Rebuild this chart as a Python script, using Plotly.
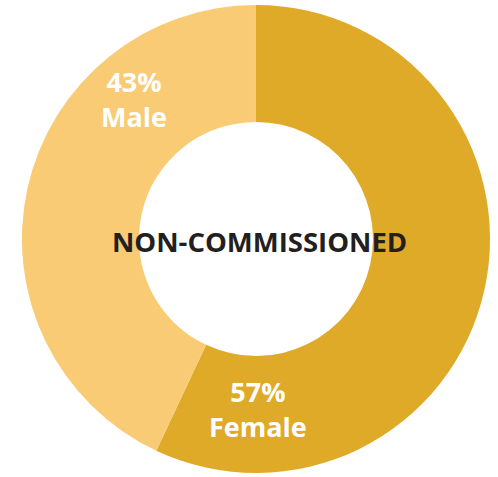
import plotly.graph_objects as go

# Gender split for non-commissioned staff
labels = ["Female", "Male"]
values = [57, 43]
colors = ["#DFAA28", "#F9CB74"]
center_title = "NON-COMMISSIONED"

# Label anchor positions in paper coordinates (x, y) for each slice
label_pos = {"Female": (0.518, 0.143), "Male": (0.269, 0.792)}

fig = go.Figure(
    go.Pie(
        labels=labels,
        values=values,
        hole=0.5,
        sort=False,
        direction="clockwise",
        rotation=0,
        marker=dict(colors=colors, line=dict(width=0)),
        textinfo="none",
        hoverinfo="label+percent",
        showlegend=False,
        domain=dict(x=[0.044, 0.984], y=[0.008, 0.99]),
    )
)

total = sum(values)
annotations = []
for lab, val in zip(labels, values):
    x, y = label_pos[lab]
    pct = round(100 * val / total)
    annotations.append(
        dict(
            x=x, y=y, xref="paper", yref="paper",
            xanchor="center", yanchor="middle",
            text=f"<b>{pct}%<br>{lab}</b>",
            showarrow=False,
            font=dict(family="Open Sans", size=27, color="white"),
            align="center",
        )
    )

annotations.append(
    dict(
        x=0.521, y=0.493, xref="paper", yref="paper",
        xanchor="center", yanchor="middle",
        text=f"<b>{center_title}</b>",
        showarrow=False,
        font=dict(family="Open Sans", size=27.5, color="#231F20"),
    )
)

fig.update_layout(
    width=498,
    height=477,
    margin=dict(l=0, r=0, t=0, b=0),
    paper_bgcolor="white",
    plot_bgcolor="white",
    annotations=annotations,
)

fig.write_html("out.html")
